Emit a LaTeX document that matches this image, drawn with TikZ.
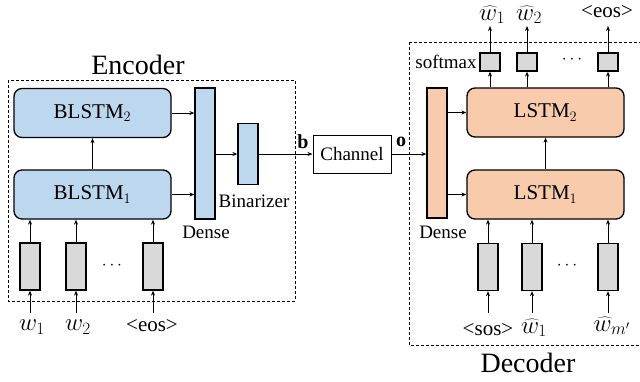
\documentclass[tikz,border=0pt]{standalone}
\usepackage{fontspec}
\setmainfont{Liberation Serif}
\usetikzlibrary{arrows.meta}
\definecolor{bluefill}{HTML}{BDD7EE}
\definecolor{orangefill}{HTML}{F8CBAD}
\definecolor{grayfill}{HTML}{D9D9D9}
\tikzset{
  box/.style={draw=black, line width=1.3pt, inner sep=0pt, anchor=center},
  lstmbox/.style={box, rounded corners=8pt, minimum width=157pt, minimum height=49pt, font=\fontsize{21}{24}\selectfont},
  encb/.style={lstmbox, fill=bluefill},
  decb/.style={lstmbox, fill=orangefill},
  bar/.style={box, minimum width=20pt},
  inbox/.style={box, fill=grayfill, minimum width=20pt, minimum height=47pt},
  smbox/.style={box, fill=grayfill, minimum width=20pt, minimum height=18pt},
  lbl/.style={inner sep=0pt, font=\fontsize{19}{22}\selectfont},
  mlbl/.style={inner sep=0pt, font=\fontsize{23}{26}\selectfont},
  big/.style={inner sep=0pt, font=\fontsize{28}{32}\selectfont},
  arr/.style={-{Stealth[length=5pt,width=4pt]}, line width=1pt},
  dbox/.style={dashed, line width=1pt, dash pattern=on 3pt off 2pt},
}
\begin{document}
\begin{tikzpicture}[x=1pt,y=-1pt]
\useasboundingbox (0,0) rectangle (640,381);
% ---------- Encoder ----------
\draw[dbox] (8,80) rectangle (295,301);
\node[big] (enc) at (138,65) {Encoder};
\node[encb] (blstm2) at (92.5,113) {BLSTM$_2$};
\node[encb] (blstm1) at (92.5,194.5) {BLSTM$_1$};
\node[bar, fill=bluefill, minimum height=131pt] (edense) at (205,153.5) {};
\node[bar, fill=bluefill, minimum height=61pt] (bin) at (248,154) {};
\node[lbl] (edl) at (206,232) {Dense};
\node[lbl] (binl) at (254,201) {Binarizer};
\node[inbox] (ein1) at (30,266.5) {};
\node[inbox] (ein2) at (76,266.5) {};
\node[inbox] (ein3) at (153,266.5) {};
\node[lbl] (edots) at (112,266) {$\cdots$};
\coordinate (et1) at (30,313);
\coordinate (et2) at (76,313);
\coordinate (et3) at (153,313);
\node[mlbl] (w1) at (32,327) {$w_1$};
\node[mlbl] (w2) at (78,327) {$w_2$};
\node[lbl, font=\fontsize{21}{24}\selectfont] (eeos) at (152,326) {<eos>};
\draw[arr] (et1) -- (ein1.south);
\draw[arr] (et2) -- (ein2.south);
\draw[arr] (et3) -- (ein3.south);
\draw[arr] (ein1.north) -- (ein1.north |- blstm1.south);
\draw[arr] (ein2.north) -- (ein2.north |- blstm1.south);
\draw[arr] (ein3.north) -- (ein3.north |- blstm1.south);
\draw[arr] (blstm1.north) -- (blstm2.south);
\draw[arr] (blstm2.east) -- (blstm2.east -| edense.west);
\draw[arr] (blstm1.east) -- (blstm1.east -| edense.west);
\draw[arr] (edense.east |- bin.west) -- (bin.west);
% ---------- Channel ----------
\node[box, line width=1pt, minimum width=78pt, minimum height=38pt, font=\fontsize{19}{22}\selectfont] (chan) at (352,154) {Channel};
\draw[arr] (bin.east) -- (chan.west);
\node[lbl, font=\fontsize{20}{22}\selectfont\bfseries] (bl) at (303,142) {b};
\node[lbl, font=\fontsize{20}{22}\selectfont\bfseries] (ol) at (401,142) {o};
% ---------- Decoder ----------
\draw[dbox] (409,42) rectangle (645,345);
\node[big] (dec) at (528,363) {Decoder};
\node[bar, fill=orangefill, minimum height=130pt] (ddense) at (437,153) {};
\node[lbl] (ddl) at (443,232) {Dense};
\node[decb] (lstm2) at (545.5,112.5) {LSTM$_2$};
\node[decb] (lstm1) at (545.5,194.5) {LSTM$_1$};
\draw[arr] (chan.east) -- (chan.east -| ddense.west);
\draw[arr] (lstm2.west -| ddense.east) -- (lstm2.west);
\draw[arr] (lstm1.west -| ddense.east) -- (lstm1.west);
\draw[arr] (lstm1.north) -- (lstm2.south);
% softmax
\node[smbox] (s1) at (490,62) {};
\node[smbox] (s2) at (527,62) {};
\node[smbox] (s3) at (608,62) {};
\node[lbl] (sml) at (446,62) {softmax};
\node[lbl] (sdots) at (572,60) {$\cdots$};
\draw[arr] (s1.south |- lstm2.north) -- (s1.south);
\draw[arr] (s2.south |- lstm2.north) -- (s2.south);
\draw[arr] (s3.south |- lstm2.north) -- (s3.south);
\coordinate (ot1) at (490,26);
\coordinate (ot2) at (527,26);
\coordinate (ot3) at (608,26);
\draw[arr] (s1.north) -- (ot1);
\draw[arr] (s2.north) -- (ot2);
\draw[arr] (s3.north) -- (ot3);
\node[mlbl] (hw1) at (492,15) {$\widehat{w}_1$};
\node[mlbl] (hw2) at (529,15) {$\widehat{w}_2$};
\node[lbl, font=\fontsize{21}{24}\selectfont] (deos) at (607,12) {<eos>};
% decoder inputs
\node[inbox] (d1) at (488,267) {};
\node[inbox] (d2) at (532,267) {};
\node[inbox] (d3) at (608,267) {};
\node[lbl] (ddots) at (567,266) {$\cdots$};
\coordinate (dt1) at (488,313);
\coordinate (dt2) at (532,313);
\coordinate (dt3) at (608,313);
\draw[arr] (dt1) -- (d1.south);
\draw[arr] (dt2) -- (d2.south);
\draw[arr] (dt3) -- (d3.south);
\draw[arr] (d1.north) -- (d1.north |- lstm1.south);
\draw[arr] (d2.north) -- (d2.north |- lstm1.south);
\draw[arr] (d3.north) -- (d3.north |- lstm1.south);
\node[lbl, font=\fontsize{21}{24}\selectfont] (sos) at (488,330) {<sos>};
\node[mlbl] (hw1i) at (534,328) {$\widehat{w}_1$};
\node[mlbl] (hwm) at (612,326) {$\widehat{w}_{m'}$};
\end{tikzpicture}
\end{document}
